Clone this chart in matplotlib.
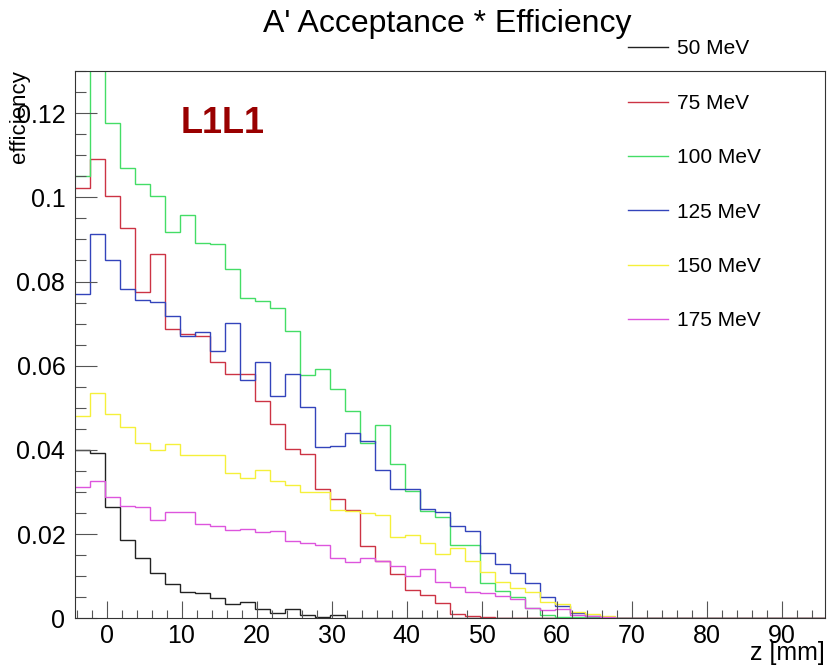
import numpy as np
import matplotlib
matplotlib.use("Agg")
import matplotlib.pyplot as plt
from matplotlib.lines import Line2D
from matplotlib.ticker import MultipleLocator

plt.rcParams['font.family'] = ['Liberation Sans', 'DejaVu Sans']

# bin edges: 50 bins of 2 mm
z_lo = -4.2
bin_w = 2.0
n_bins = 50

labels = ['50 MeV', '75 MeV', '100 MeV', '125 MeV', '150 MeV', '175 MeV']
colors = ['#222222', '#cc3344', '#44dd66', '#3344bb', '#f5f03a', '#dd55dd']

eff_50 = [0.0399, 0.0393, 0.0264, 0.0185, 0.0144, 0.0108, 0.0081, 0.0063, 0.0059, 0.0049,
          0.0034, 0.0039, 0.0022, 0.0013, 0.0022, 0.0008, 0.0004, 0.0008]
eff_75 = [0.1022, 0.1092, 0.1003, 0.0926, 0.0774, 0.0866, 0.0687, 0.0675, 0.0671, 0.0608,
          0.0580, 0.0580, 0.0515, 0.0461, 0.0403, 0.0391, 0.0306, 0.0284, 0.0258, 0.0171,
          0.0136, 0.0105, 0.0067, 0.0055, 0.0036, 0.0010, 0.0005, 0.0002]
eff_100 = [0.1050, 0.1380, 0.1176, 0.1070, 0.1032, 0.1003, 0.0918, 0.0957, 0.0891, 0.0888,
           0.0829, 0.0762, 0.0754, 0.0737, 0.0683, 0.0578, 0.0592, 0.0545, 0.0493, 0.0416,
           0.0459, 0.0367, 0.0302, 0.0256, 0.0241, 0.0174, 0.0174, 0.0085, 0.0065, 0.0051,
           0.0024, 0.0008, 0.0002, 0.0003, 0.0002]
eff_125 = [0.0770, 0.0912, 0.0850, 0.0782, 0.0756, 0.0752, 0.0717, 0.0671, 0.0680, 0.0636,
           0.0701, 0.0566, 0.0609, 0.0527, 0.0580, 0.0503, 0.0408, 0.0410, 0.0441, 0.0421,
           0.0353, 0.0306, 0.0307, 0.0260, 0.0253, 0.0219, 0.0207, 0.0155, 0.0129, 0.0107,
           0.0083, 0.0051, 0.0030, 0.0012, 0.0006]
eff_150 = [0.0480, 0.0534, 0.0486, 0.0455, 0.0417, 0.0400, 0.0413, 0.0387, 0.0387, 0.0389,
           0.0346, 0.0334, 0.0353, 0.0326, 0.0316, 0.0300, 0.0300, 0.0258, 0.0256, 0.0249,
           0.0245, 0.0192, 0.0197, 0.0178, 0.0153, 0.0168, 0.0137, 0.0110, 0.0087, 0.0071,
           0.0063, 0.0039, 0.0034, 0.0016, 0.0010, 0.0005]
eff_175 = [0.0312, 0.0326, 0.0287, 0.0267, 0.0265, 0.0234, 0.0252, 0.0252, 0.0225, 0.0219,
           0.0209, 0.0211, 0.0205, 0.0208, 0.0184, 0.0180, 0.0174, 0.0144, 0.0134, 0.0144,
           0.0136, 0.0124, 0.0100, 0.0118, 0.0087, 0.0074, 0.0063, 0.0059, 0.0053, 0.0047,
           0.0024, 0.0020, 0.0021, 0.0009, 0.0005, 0.0002]

series = [eff_50, eff_75, eff_100, eff_125, eff_150, eff_175]
edges = z_lo + bin_w * np.arange(n_bins + 1)

fig = plt.figure(figsize=(8.29, 6.68), dpi=100)
ax = fig.add_axes([0.0905, 0.0744, 0.9047, 0.8193])

for vals, c in zip(series, colors):
    v = np.zeros(n_bins)
    v[:len(vals)] = vals
    ax.stairs(v, edges, baseline=None, color=c, lw=1.0)

ax.set_xlim(edges[0], edges[-1])
ax.set_ylim(0, 0.13)

ax.xaxis.set_major_locator(MultipleLocator(10))
ax.xaxis.set_minor_locator(MultipleLocator(2))
ax.yaxis.set_major_locator(MultipleLocator(0.02))
ax.yaxis.set_minor_locator(MultipleLocator(0.005))
ax.yaxis.set_major_formatter(plt.FuncFormatter(lambda v, p: '0' if v == 0 else f'{v:g}'))
ax.tick_params(axis='both', which='both', direction='in', top=False, right=False,
               colors='#555555', labelcolor='black', labelsize=18, width=0.8)
ax.tick_params(axis='x', which='major', length=12, pad=4)
ax.tick_params(axis='x', which='minor', length=6)
ax.tick_params(axis='y', which='major', length=16, pad=7)
ax.tick_params(axis='y', which='minor', length=8)
for s in ax.spines.values():
    s.set_linewidth(0.8)
    s.set_color('#333333')

fig.text(0.540, 0.964, "A' Acceptance * Efficiency", ha='center', va='center', fontsize=23)
fig.text(0.995, 0.022, 'z [mm]', ha='right', va='center', fontsize=18)
fig.text(0.024, 0.895, 'efficiency', rotation=90, ha='center', va='top', fontsize=16)
ax.text(0.197, 0.905, 'L1L1', transform=ax.transAxes, ha='center', va='center',
        fontsize=26, fontweight='bold', color='#990000')

handles = [Line2D([], [], color=c, lw=1.0) for c in colors]
fig.legend(handles, labels, loc='upper left', bbox_to_anchor=(0.7575, 0.941),
           frameon=False, fontsize=15, borderpad=0, borderaxespad=0,
           handlelength=1.9, handletextpad=0.45, labelspacing=1.70)

fig.savefig('out.png', dpi=100)
